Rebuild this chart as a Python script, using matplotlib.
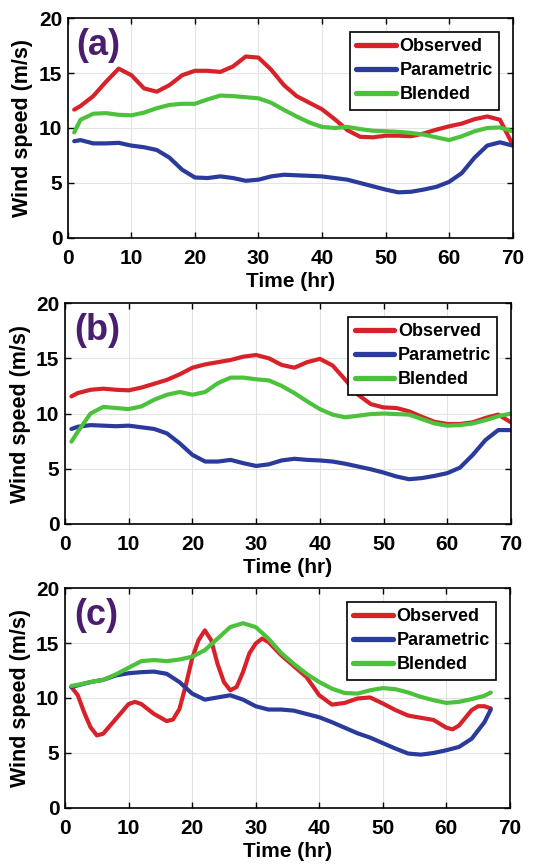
import matplotlib
matplotlib.use("Agg")
import matplotlib.pyplot as plt

plt.rcParams['font.family'] = ['Liberation Sans', 'DejaVu Sans']
plt.rcParams['font.weight'] = 'bold'

# ---- panel (a) ----
t_a = [1, 2, 4, 6, 8, 10, 12, 14, 16, 18, 20, 22, 24, 26, 28, 30, 32, 34, 36,
       38, 40, 42, 44, 46, 48, 50, 52, 54, 56, 58, 60, 62, 64, 66, 68, 70]
obs_a = [11.67, 12.0, 12.9, 14.2, 15.4, 14.8, 13.6, 13.3, 13.9, 14.8, 15.2, 15.2,
         15.1, 15.6, 16.5, 16.4, 15.3, 13.9, 12.9, 12.3, 11.7, 10.8, 9.8, 9.2,
         9.15, 9.3, 9.3, 9.25, 9.5, 9.85, 10.15, 10.4, 10.8, 11.05, 10.75, 8.5]
par_a = [8.8, 8.9, 8.6, 8.6, 8.65, 8.4, 8.25, 8.0, 7.3, 6.2, 5.5, 5.45, 5.6, 5.45,
         5.2, 5.3, 5.6, 5.75, 5.7, 5.65, 5.6, 5.45, 5.3, 5.0, 4.7, 4.4, 4.15, 4.2,
         4.4, 4.65, 5.1, 5.9, 7.3, 8.4, 8.7, 8.4]
bld_a = [9.6, 10.75, 11.3, 11.35, 11.2, 11.15, 11.4, 11.8, 12.1, 12.2, 12.2, 12.6,
         12.95, 12.9, 12.8, 12.7, 12.3, 11.65, 11.05, 10.5, 10.1, 10.0, 10.1, 9.9,
         9.75, 9.7, 9.65, 9.55, 9.4, 9.15, 8.9, 9.25, 9.7, 10.0, 10.05, 9.7]

# ---- panel (b) ----
t_b = t_a
obs_b = [11.55, 11.85, 12.15, 12.25, 12.15, 12.1, 12.35, 12.7, 13.05, 13.55, 14.15,
         14.45, 14.65, 14.85, 15.15, 15.3, 15.0, 14.4, 14.15, 14.65, 14.95, 14.35,
         13.05, 11.7, 10.85, 10.55, 10.5, 10.2, 9.7, 9.25, 9.05, 9.05, 9.2, 9.6,
         9.9, 9.2]
par_b = [8.6, 8.8, 8.95, 8.9, 8.85, 8.9, 8.75, 8.6, 8.2, 7.3, 6.25, 5.65, 5.65, 5.8,
         5.5, 5.25, 5.4, 5.75, 5.9, 5.8, 5.75, 5.65, 5.45, 5.2, 4.95, 4.65, 4.3,
         4.05, 4.15, 4.35, 4.6, 5.1, 6.25, 7.6, 8.5, 8.5]
bld_b = [7.45, 8.35, 10.0, 10.6, 10.5, 10.4, 10.65, 11.25, 11.7, 11.95, 11.7, 11.95,
         12.75, 13.25, 13.25, 13.1, 13.0, 12.5, 11.85, 11.1, 10.4, 9.9, 9.65, 9.8,
         9.95, 10.0, 9.95, 9.9, 9.5, 9.1, 8.9, 8.95, 9.1, 9.4, 9.75, 10.0]

# ---- panel (c) ----
t_c_obs = [1, 2, 3, 4, 5, 6, 8, 10, 11, 12, 14, 16, 17, 18, 19, 20, 21, 22, 23, 24,
           25, 26, 27, 28, 29, 30, 31, 32, 34, 36, 38, 40, 42, 44, 46, 48, 50, 52,
           54, 56, 58, 60, 61, 62, 64, 65, 66, 67]
obs_c = [11.0, 10.25, 8.7, 7.35, 6.6, 6.75, 8.1, 9.45, 9.65, 9.45, 8.55, 7.9, 8.05,
         9.0, 11.15, 13.6, 15.25, 16.15, 15.25, 13.1, 11.45, 10.7, 11.0, 12.35,
         14.05, 14.95, 15.4, 15.1, 13.9, 12.9, 11.9, 10.25, 9.4, 9.55, 9.95, 10.05,
         9.5, 8.9, 8.4, 8.2, 8.0, 7.3, 7.15, 7.5, 8.9, 9.25, 9.25, 9.05]
t_c = [1, 2, 4, 6, 8, 10, 12, 14, 16, 18, 20, 22, 24, 26, 28, 30, 32, 34, 36, 38,
       40, 42, 44, 46, 48, 50, 52, 54, 56, 58, 60, 62, 64, 66, 67]
par_c = [11.0, 11.15, 11.45, 11.65, 12.05, 12.25, 12.35, 12.4, 12.2, 11.45, 10.4,
         9.85, 10.05, 10.25, 9.85, 9.25, 8.95, 8.95, 8.85, 8.55, 8.25, 7.8, 7.3,
         6.8, 6.4, 5.9, 5.4, 4.95, 4.85, 5.0, 5.25, 5.55, 6.3, 7.8, 8.95]
bld_c = [11.1, 11.2, 11.45, 11.65, 12.15, 12.75, 13.35, 13.45, 13.35, 13.5, 13.75,
         14.35, 15.4, 16.45, 16.8, 16.45, 15.4, 14.1, 13.1, 12.2, 11.45, 10.85,
         10.45, 10.4, 10.7, 10.9, 10.8, 10.5, 10.1, 9.8, 9.55, 9.65, 9.9, 10.2, 10.5]

labels = ['Observed', 'Parametric', 'Blended']
colors = ['#d8222a', '#2a3b9c', '#4cc23c']
panels = [
    ('(a)', [(t_a, obs_a), (t_a, par_a), (t_a, bld_a)]),
    ('(b)', [(t_b, obs_b), (t_b, par_b), (t_b, bld_b)]),
    ('(c)', [(t_c_obs, obs_c), (t_c, par_c), (t_c, bld_c)]),
]
# axes rectangles [left, bottom, width, height] in figure fraction
rects = [[0.122, 0.7252, 0.800, 0.254],
         [0.117, 0.395, 0.802, 0.255],
         [0.117, 0.067, 0.800, 0.254]]

fig = plt.figure(figsize=(5.56, 8.66), dpi=100)

for (tag, series), rect in zip(panels, rects):
    ax = fig.add_axes(rect)
    for (x, y), lab, c in zip(series, labels, colors):
        ax.plot(x, y, color=c, lw=3.0, label=lab, solid_capstyle='round')
    ax.set_xlim(0, 70)
    ax.set_ylim(0, 20)
    ax.set_xticks(range(0, 71, 10))
    ax.set_yticks(range(0, 21, 5))
    ax.grid(True, color='#e3e3e3', lw=0.8)
    ax.set_axisbelow(True)
    ax.tick_params(direction='in', top=True, right=True, labelsize=15,
                   length=4, width=1)
    ax.tick_params(axis='x', pad=8)
    ax.tick_params(axis='y', pad=4)
    for s in ax.spines.values():
        s.set_linewidth(1.2)
    ax.set_xlabel('Time (hr)', fontsize=15, fontweight='bold', labelpad=3)
    ax.set_ylabel('Wind speed (m/s)', fontsize=15.5, fontweight='bold', labelpad=4)
    ax.text(0.02, 0.875, tag, transform=ax.transAxes, fontsize=26,
            fontweight='bold', color='#4a1d6e', va='center', ha='left')
    leg = ax.legend(loc='upper right', fontsize=13, handlelength=2.2,
                    handletextpad=0.2, borderaxespad=0.75, labelspacing=0.4,
                    fancybox=False, edgecolor='black', framealpha=1,
                    borderpad=0.35)
    leg.get_frame().set_linewidth(1.2)
    for h in leg.get_lines():
        h.set_linewidth(3.8)

fig.savefig('out.png', dpi=100)
